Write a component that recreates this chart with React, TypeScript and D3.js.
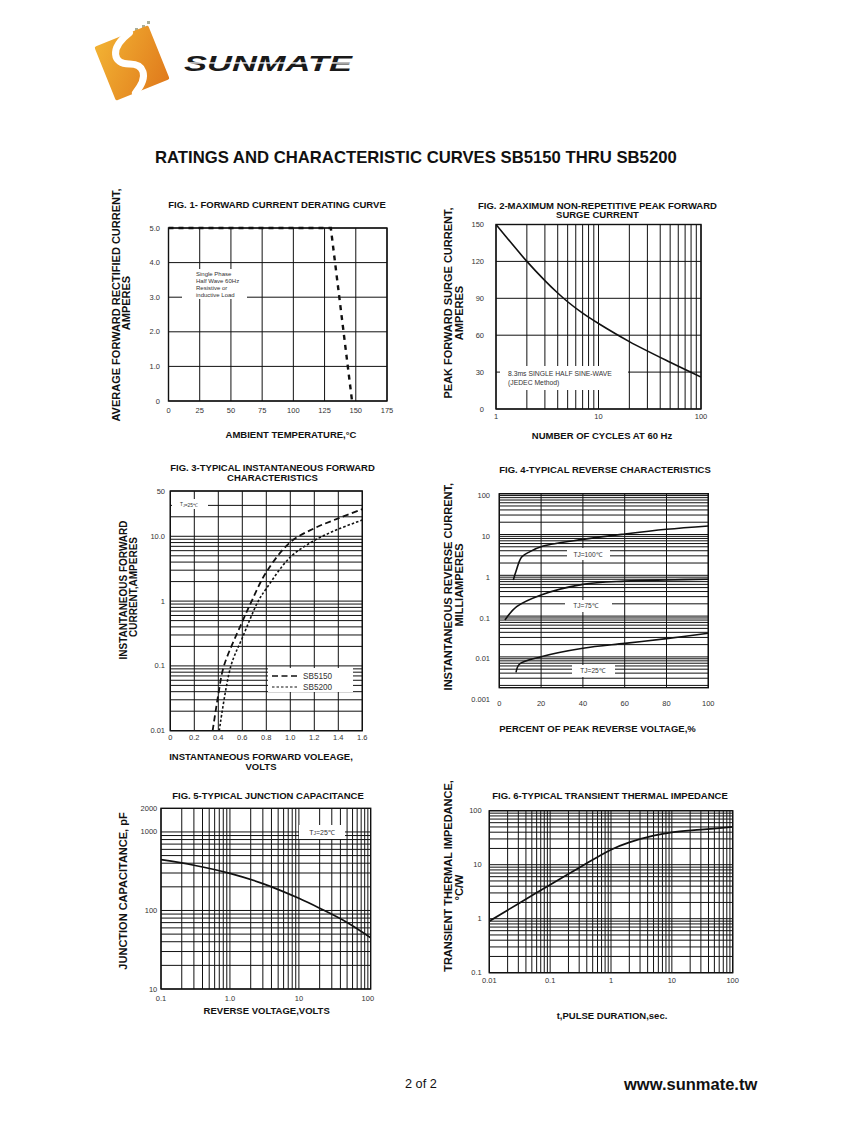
import React from 'react';
import * as d3 from 'd3';

const FONT = "'Liberation Sans', Arial, Helvetica, sans-serif";
const INK = '#111';
const TICK = '#333';

// ---------- FIG 1 data ----------
const fig1TempTicks = [0, 25, 50, 75, 100, 125, 150, 175];
const fig1CurrentTicks = [0, 1, 2, 3, 4, 5];
const fig1CurrentLabels = ['0', '1.0', '2.0', '3.0', '4.0', '5.0'];
const fig1Temp = [0, 130, 147];
const fig1Current = [5, 5, 0];

// ---------- FIG 2 data ----------
const fig2CycleGrid = [1, 2, 3, 4, 5, 6, 7, 8, 9, 10, 20, 30, 40, 50, 60, 70, 80, 90, 100];
const fig2CycleLabels = [1, 10, 100];
const fig2SurgeTicks = [0, 30, 60, 90, 120, 150];
const fig2Cycles = [1, 2, 3, 4, 5, 7, 10, 20, 50, 100];
const fig2Surge = [150, 120, 104.4, 94.3, 87.2, 77.9, 69.5, 54.8, 38, 26];

// ---------- FIG 3 data ----------
const fig3VoltTicks = [0, 0.2, 0.4, 0.6, 0.8, 1.0, 1.2, 1.4, 1.6];
const fig3VoltLabels = ['0', '0.2', '0.4', '0.6', '0.8', '1.0', '1.2', '1.4', '1.6'];
const fig3CurrentTicks = [0.01, 0.1, 1, 10, 50];
const fig3CurrentLabels = ['0.01', '0.1', '1', '10.0', '50'];
const fig3ExtraGrid = [20, 30, 50];
const sb5150Volt = [0.353, 0.4, 0.447, 0.6, 0.678, 0.8, 1.0, 1.2, 1.4, 1.6];
const sb5150Amp = [0.01, 0.036, 0.1, 0.48, 1, 2.8, 8.1, 13.3, 18.9, 26.2];
const sb5200Volt = [0.408, 0.505, 0.6, 0.733, 0.8, 1.0, 1.2, 1.4, 1.6];
const sb5200Amp = [0.01, 0.1, 0.27, 1, 1.56, 4.77, 8.6, 12.9, 17.8];

// ---------- FIG 4 data ----------
const fig4PctTicks = [0, 20, 40, 60, 80, 100];
const fig4CurrentTicks = [0.001, 0.01, 0.1, 1, 10, 100];
const fig4CurrentLabels = ['0.001', '0.01', '0.1', '1', '10', '100'];
const tj100Pct = [6.7, 8, 10.7, 14.7, 21, 40, 60, 80, 100];
const tj100mA = [0.77, 1.25, 2.8, 3.8, 5.2, 7.6, 10.3, 13.4, 16.2];
const tj75Pct = [2.7, 8.3, 20, 40, 60, 80, 100];
const tj75mA = [0.08, 0.17, 0.33, 0.6, 0.72, 0.77, 0.8];
const tj25Pct = [8, 9.7, 20, 40, 60, 80, 100];
const tj25mA = [0.0042, 0.0067, 0.0101, 0.0163, 0.0215, 0.028, 0.038];

// ---------- FIG 5 data ----------
const fig5VoltTicks = [0.1, 1, 10, 100];
const fig5VoltLabels = ['0.1', '1.0', '10', '100'];
const fig5CapTicks = [10, 100, 1000, 2000];
const fig5Volt = [0.1, 0.3, 1, 3, 10, 20, 50, 110];
const fig5Cap = [443, 377, 297, 220, 143, 107, 70.5, 45];

// ---------- FIG 6 data ----------
const fig6TimeTicks = [0.01, 0.1, 1, 10, 100];
const fig6TimeLabels = ['0.01', '0.1', '1', '10', '100'];
const fig6ZTicks = [0.1, 1, 10, 100];
const fig6ZLabels = ['0.1', '1', '10', '100'];
const fig6Time = [0.01, 0.03, 0.1, 0.3, 1, 2, 5, 10, 30, 100];
const fig6Z = [0.9, 1.9, 4.26, 8.8, 19, 25.9, 34.5, 39.8, 44.5, 50];

function logMinor(lo: number, hi: number): number[] {
  const out: number[] = [];
  for (let e = Math.floor(Math.log10(lo)) - 1; e <= Math.ceil(Math.log10(hi)); e++) {
    for (let k = 1; k <= 9; k++) {
      const v = +(k * Math.pow(10, e)).toPrecision(6);
      if (v >= lo * 0.9999 && v <= hi * 1.0001) out.push(v);
    }
  }
  return out;
}

type Sc = (v: number) => number;

function Grid({ xs, ys, x, y, x0, x1, y0, y1 }: { xs: number[]; ys: number[]; x: Sc; y: Sc; x0: number; x1: number; y0: number; y1: number }) {
  return (
    <g stroke={INK} strokeWidth={1}>
      {xs.map((v, i) => <line key={'v' + i} x1={x(v)} x2={x(v)} y1={y0} y2={y1} />)}
      {ys.map((v, i) => <line key={'h' + i} x1={x0} x2={x1} y1={y(v)} y2={y(v)} />)}
    </g>
  );
}

function Frame({ x0, x1, y0, y1 }: { x0: number; x1: number; y0: number; y1: number }) {
  return <rect x={x0} y={y0} width={x1 - x0} height={y1 - y0} fill="none" stroke={INK} strokeWidth={1.4} />;
}

function CurvePath({ xs, ys, x, y, dash, width = 1.6, linear = false, clip }: { xs: number[]; ys: number[]; x: Sc; y: Sc; dash?: string; width?: number; linear?: boolean; clip?: string }) {
  const pts: [number, number][] = xs.map((v, i) => [v, ys[i]]);
  const gen = d3.line<[number, number]>().x(d => x(d[0])).y(d => y(d[1])).curve(linear ? d3.curveLinear : d3.curveCatmullRom.alpha(0.5));
  return <path d={gen(pts) || ''} fill="none" stroke={INK} strokeWidth={width} strokeDasharray={dash} clipPath={clip ? `url(#${clip})` : undefined} />;
}

function XTicks({ vals, labels, x, yPos, size = 7.5 }: { vals: number[]; labels: string[]; x: Sc; yPos: number; size?: number }) {
  return (
    <g fontFamily={FONT} fontSize={size} fill={TICK} textAnchor="middle" dominantBaseline="central">
      {vals.map((v, i) => <text key={i} x={x(v)} y={yPos}>{labels[i]}</text>)}
    </g>
  );
}

function YTicks({ vals, labels, y, xPos, size = 7.5, pos }: { vals: number[]; labels: string[]; y: Sc; xPos: number; size?: number; pos?: number[] }) {
  return (
    <g fontFamily={FONT} fontSize={size} fill={TICK} textAnchor="end" dominantBaseline="central">
      {vals.map((v, i) => <text key={i} x={xPos} y={pos ? pos[i] : y(v)}>{labels[i]}</text>)}
    </g>
  );
}

function Title({ lines, cx, ys, size = 9.5 }: { lines: string[]; cx: number; ys: number[]; size?: number }) {
  return (
    <g fontFamily={FONT} fontSize={size} fontWeight="bold" fill={INK} textAnchor="middle" dominantBaseline="central">
      {lines.map((l, i) => <text key={i} x={cx} y={ys[i]}>{l}</text>)}
    </g>
  );
}

function VLabel({ text, cx, cy, size = 11 }: { text: string; cx: number; cy: number; size?: number }) {
  return (
    <text transform={`translate(${cx},${cy}) rotate(-90)`} fontFamily={FONT} fontSize={size} fontWeight="bold" fill={INK} textAnchor="middle" dominantBaseline="central">{text}</text>
  );
}

export default function App() {
  // FIG 1
  const x1 = d3.scaleLinear().domain([0, 175]).range([168.5, 387]);
  const y1 = d3.scaleLinear().domain([0, 5]).range([401, 228]);
  // FIG 2
  const x2 = d3.scaleLog().domain([1, 100]).range([496, 701]);
  const y2 = d3.scaleLinear().domain([0, 150]).range([409, 224.5]);
  // FIG 3
  const x3 = d3.scaleLinear().domain([0, 1.6]).range([170.3, 362.3]);
  const y3 = d3.scaleLog().domain([0.01, 50]).range([730.7, 491]);
  const fig3HGrid = logMinor(0.01, 10).concat(fig3ExtraGrid);
  // FIG 4
  const x4 = d3.scaleLinear().domain([0, 100]).range([499.3, 708.3]);
  const y4 = d3.scaleLog().domain([0.001, 100]).range([697.7, 493.7]);
  const fig4Bottom = 687.7;
  const fig4HGrid = logMinor(0.001, 100).filter(v => y4(v) <= fig4Bottom);
  // FIG 5
  const x5 = d3.scaleLog().domain([0.1, 110]).range([161, 370.7]);
  const y5 = d3.scaleLog().domain([10, 2000]).range([989, 808.3]);
  // FIG 6
  const x6 = d3.scaleLog().domain([0.01, 100]).range([489.3, 732.7]);
  const y6 = d3.scaleLog().domain([0.1, 100]).range([972.7, 810.7]);

  const clip = (id: string, xa: number, xb: number, ya: number, yb: number) => (
    <clipPath id={id}><rect x={xa} y={ya} width={xb - xa} height={yb - ya} /></clipPath>
  );

  return (
    <svg width={847} height={1125} viewBox="0 0 847 1125" style={{ position: 'absolute', left: 0, top: 0, background: '#fff' }}>
      <defs>
        <linearGradient id="og" x1="0" y1="0" x2="1" y2="1">
          <stop offset="0" stopColor="#f2b233" />
          <stop offset="1" stopColor="#e07a1c" />
        </linearGradient>
        {clip('c2', x2(1), x2(100), y2(150), y2(0))}
        {clip('c3', x3(0), x3(1.6), y3(50), y3(0.01))}
        {clip('c4', x4(0), x4(100), y4(100), fig4Bottom)}
        {clip('c5', x5(0.1), x5(110), y5(2000), y5(10))}
        {clip('c6', x6(0.01), x6(100), y6(100), y6(0.1))}
      </defs>
      <rect x={0} y={0} width={847} height={1125} fill="#fff" />

      {/* Logo */}
      <g>
        {[[120, 40], [125, 36], [130, 32], [135, 28], [126, 40], [131, 36], [136, 32], [141, 28], [132, 40], [137, 36], [142, 25], [147, 21]].map((p, i) => (
          <rect key={i} x={p[0]} y={p[1]} width={3} height={3} fill="#a9ae98" />
        ))}
        <g transform="translate(132,63) rotate(-22)">
          <rect x={-29} y={-29} width={58} height={58} rx={2} fill="url(#og)" />
          <path d="M 9 -29 C -16 -22 -18 -6 -3 0 C 10 5 12 18 -8 29" fill="none" stroke="#fff" strokeWidth={7} strokeLinecap="round" />
        </g>
        <text x={184} y={71} fontFamily={FONT} fontSize={22} fontWeight="bold" fontStyle="italic" fill="#1a1a1a" textLength={168} lengthAdjust="spacingAndGlyphs">SUNMATE</text>
        <rect x={180} y={62.3} width={175} height={1.3} fill="#fff" />
      </g>

      {/* Header */}
      <text x={155} y={163} fontFamily={FONT} fontSize={16.7} fontWeight="bold" fill={INK}>RATINGS AND CHARACTERISTIC CURVES SB5150 THRU SB5200</text>

      {/* ---------------- FIG 1 ---------------- */}
      <Title lines={['FIG. 1- FORWARD CURRENT DERATING CURVE']} cx={277} ys={[204]} />
      <Grid xs={fig1TempTicks} ys={fig1CurrentTicks} x={x1} y={y1} x0={x1(0)} x1={x1(175)} y0={y1(5)} y1={y1(0)} />
      <rect x={182} y={269} width={65} height={30} fill="#fff" />
      <g fontFamily={FONT} fontSize={6} fill={TICK}>
        <text x={196} y={276}>Single Phase</text>
        <text x={196} y={283}>Half Wave 60Hz</text>
        <text x={196} y={290}>Resistive or</text>
        <text x={196} y={297}>inductive Load</text>
      </g>
      <Frame x0={x1(0)} x1={x1(175)} y0={y1(5)} y1={y1(0)} />
      <CurvePath xs={fig1Temp} ys={fig1Current} x={x1} y={y1} dash="5 5" width={2.4} linear />
      <XTicks vals={fig1TempTicks} labels={fig1TempTicks.map(String)} x={x1} yPos={410} />
      <YTicks vals={fig1CurrentTicks} labels={fig1CurrentLabels} y={y1} xPos={160} />
      <VLabel text="AVERAGE FORWARD RECTIFIED CURRENT," cx={115.5} cy={305} />
      <VLabel text="AMPERES" cx={126} cy={303} />
      <Title lines={['AMBIENT TEMPERATURE,°C']} cx={291} ys={[434]} />

      {/* ---------------- FIG 2 ---------------- */}
      <Title lines={['FIG. 2-MAXIMUM NON-REPETITIVE PEAK FORWARD', 'SURGE CURRENT']} cx={597.5} ys={[205, 214]} />
      <Grid xs={fig2CycleGrid} ys={fig2SurgeTicks} x={x2} y={y2} x0={x2(1)} x1={x2(100)} y0={y2(150)} y1={y2(0)} />
      <rect x={500} y={366} width={128} height={24} fill="#fff" />
      <g fontFamily={FONT} fontSize={6.8} fill={TICK}>
        <text x={508} y={376}>8.3ms SINGLE HALF SINE-WAVE</text>
        <text x={508} y={385}>(JEDEC Method)</text>
      </g>
      <Frame x0={x2(1)} x1={x2(100)} y0={y2(150)} y1={y2(0)} />
      <CurvePath xs={fig2Cycles} ys={fig2Surge} x={x2} y={y2} clip="c2" />
      <XTicks vals={fig2CycleLabels} labels={fig2CycleLabels.map(String)} x={x2} yPos={416.5} />
      <YTicks vals={fig2SurgeTicks} labels={fig2SurgeTicks.map(String)} y={y2} xPos={484} />
      <VLabel text="PEAK  FORWARD SURGE CURRENT," cx={448} cy={303} />
      <VLabel text="AMPERES" cx={459} cy={313} />
      <Title lines={['NUMBER OF CYCLES AT 60 Hz']} cx={602} ys={[435]} />

      {/* ---------------- FIG 3 ---------------- */}
      <Title lines={['FIG. 3-TYPICAL INSTANTANEOUS FORWARD', 'CHARACTERISTICS']} cx={272.5} ys={[467.5, 477.5]} />
      <Grid xs={fig3VoltTicks} ys={fig3HGrid} x={x3} y={y3} x0={x3(0)} x1={x3(1.6)} y0={y3(50)} y1={y3(0.01)} />
      <rect x={172} y={499} width={36} height={10} fill="#fff" />
      <text x={180} y={504.5} fontFamily={FONT} fontSize={4.8} fill={TICK} dominantBaseline="central">T<tspan fontSize={3.6} dy={1}>J</tspan><tspan dy={-1}>=25℃</tspan></text>
      <rect x={268} y={668} width={85} height={24} fill="#fff" />
      <Frame x0={x3(0)} x1={x3(1.6)} y0={y3(50)} y1={y3(0.01)} />
      <CurvePath xs={sb5150Volt} ys={sb5150Amp} x={x3} y={y3} dash="6 3.5" width={1.8} clip="c3" />
      <CurvePath xs={sb5200Volt} ys={sb5200Amp} x={x3} y={y3} dash="2.5 2" width={1.6} clip="c3" />
      <line x1={272} x2={297} y1={676} y2={676} stroke={INK} strokeWidth={1.4} strokeDasharray="6 3.5" />
      <line x1={272} x2={297} y1={687} y2={687} stroke={INK} strokeWidth={1.2} strokeDasharray="2.5 2" />
      <g fontFamily={FONT} fontSize={8.2} fill={TICK} dominantBaseline="central">
        <text x={303} y={676}>SB5150</text>
        <text x={303} y={687}>SB5200</text>
      </g>
      <XTicks vals={fig3VoltTicks} labels={fig3VoltLabels} x={x3} yPos={737} />
      <YTicks vals={fig3CurrentTicks} labels={fig3CurrentLabels} y={y3} xPos={165} />
      <VLabel text="INSTANTANEOUS FORWARD" cx={123.3} cy={590} size={10} />
      <VLabel text="CURRENT,AMPERES" cx={133} cy={587} size={10} />
      <Title lines={['INSTANTANEOUS FORWARD VOLEAGE,', 'VOLTS']} cx={261} ys={[756, 766]} />

      {/* ---------------- FIG 4 ---------------- */}
      <Title lines={['FIG. 4-TYPICAL REVERSE CHARACTERISTICS']} cx={605} ys={[469.5]} />
      <Grid xs={fig4PctTicks} ys={fig4HGrid} x={x4} y={y4} x0={x4(0)} x1={x4(100)} y0={y4(100)} y1={fig4Bottom} />
      <rect x={567} y={548} width={43} height={12} fill="#fff" />
      <rect x={565} y={600} width={47} height={12} fill="#fff" />
      <rect x={572} y={665} width={43} height={12} fill="#fff" />
      <g fontFamily={FONT} fontSize={6.6} fill={TICK} textAnchor="middle" dominantBaseline="central">
        <text x={588} y={554}>TJ=100℃</text>
        <text x={586} y={605.7}>TJ=75℃</text>
        <text x={593} y={670.7}>TJ=25℃</text>
      </g>
      <Frame x0={x4(0)} x1={x4(100)} y0={y4(100)} y1={fig4Bottom} />
      <CurvePath xs={tj100Pct} ys={tj100mA} x={x4} y={y4} clip="c4" />
      <CurvePath xs={tj75Pct} ys={tj75mA} x={x4} y={y4} clip="c4" />
      <CurvePath xs={tj25Pct} ys={tj25mA} x={x4} y={y4} clip="c4" />
      <XTicks vals={fig4PctTicks} labels={fig4PctTicks.map(String)} x={x4} yPos={703.3} />
      <YTicks vals={fig4CurrentTicks} labels={fig4CurrentLabels} y={y4} xPos={490} pos={fig4CurrentTicks.map(v => y4(v) + 2)} />
      <VLabel text="INSTANTANEOUS REVERSE CURRENT," cx={448} cy={586.7} />
      <VLabel text="MILLIAMPERES" cx={458.5} cy={585} />
      <Title lines={['PERCENT OF PEAK REVERSE VOLTAGE,%']} cx={597.5} ys={[728.3]} />

      {/* ---------------- FIG 5 ---------------- */}
      <Title lines={['FIG. 5-TYPICAL JUNCTION CAPACITANCE']} cx={268} ys={[795]} />
      <Grid xs={logMinor(0.1, 100)} ys={logMinor(10, 1000)} x={x5} y={y5} x0={x5(0.1)} x1={x5(110)} y0={y5(2000)} y1={y5(10)} />
      <rect x={299} y={825} width={46} height={14} fill="#fff" />
      <text x={322} y={832} fontFamily={FONT} fontSize={7} fill={TICK} textAnchor="middle" dominantBaseline="central">T<tspan fontSize={5} dy={1.2}>J</tspan><tspan dy={-1.2}>=25℃</tspan></text>
      <Frame x0={x5(0.1)} x1={x5(110)} y0={y5(2000)} y1={y5(10)} />
      <CurvePath xs={fig5Volt} ys={fig5Cap} x={x5} y={y5} width={1.7} clip="c5" />
      <XTicks vals={fig5VoltTicks} labels={fig5VoltLabels} x={x5} yPos={998.3} />
      <YTicks vals={fig5CapTicks} labels={fig5CapTicks.map(String)} y={y5} xPos={157.3} />
      <VLabel text="JUNCTION CAPACITANCE, pF" cx={123} cy={891} />
      <Title lines={['REVERSE VOLTAGE,VOLTS']} cx={266.7} ys={[1010]} />

      {/* ---------------- FIG 6 ---------------- */}
      <Title lines={['FIG. 6-TYPICAL TRANSIENT THERMAL IMPEDANCE']} cx={610} ys={[795]} />
      <Grid xs={logMinor(0.01, 100)} ys={logMinor(0.1, 100)} x={x6} y={y6} x0={x6(0.01)} x1={x6(100)} y0={y6(100)} y1={y6(0.1)} />
      <Frame x0={x6(0.01)} x1={x6(100)} y0={y6(100)} y1={y6(0.1)} />
      <CurvePath xs={fig6Time} ys={fig6Z} x={x6} y={y6} width={1.7} clip="c6" />
      <XTicks vals={fig6TimeTicks} labels={fig6TimeLabels} x={x6} yPos={980.7} />
      <YTicks vals={fig6ZTicks} labels={fig6ZLabels} y={y6} xPos={481.7} />
      <VLabel text="TRANSIENT THERMAL IMPEDANCE," cx={448} cy={876} />
      <VLabel text="°C/W" cx={459} cy={887.5} />
      <Title lines={['t,PULSE DURATION,sec.']} cx={612} ys={[1015]} />

      {/* Footer */}
      <text x={405} y={1088} fontFamily={FONT} fontSize={12.7} fill={INK}>2 of 2</text>
      <text x={624} y={1090} fontFamily={FONT} fontSize={16.5} fontWeight="bold" fill={INK}>www.sunmate.tw</text>
    </svg>
  );
}
